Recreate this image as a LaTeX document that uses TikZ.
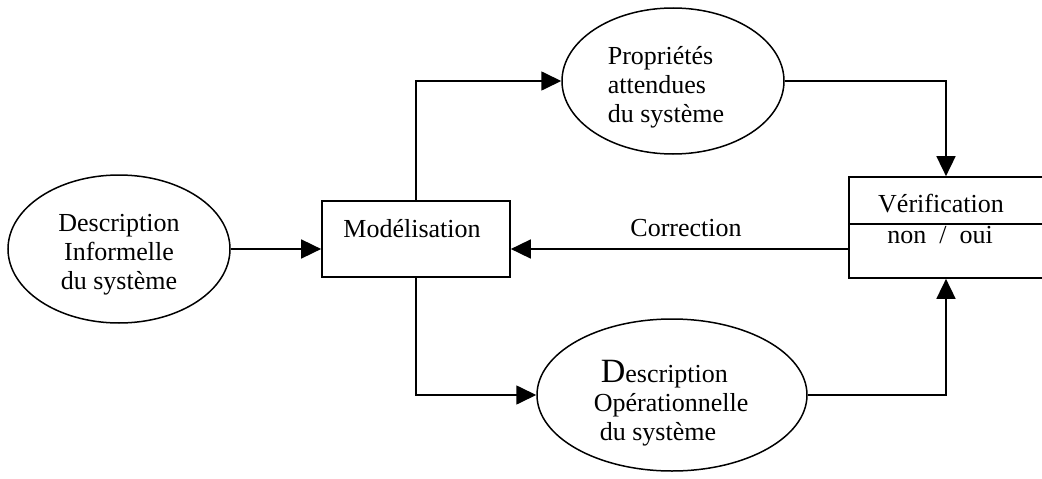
\documentclass[tikz,border=0pt]{standalone}
\usepackage{fontspec}
\setmainfont{Liberation Serif}
\usetikzlibrary{shapes.geometric,arrows.meta}
\begin{document}
\begin{tikzpicture}[x=1pt,y=-1pt,
  line width=1.7pt,
  ell/.style={draw,ellipse,inner sep=0pt,line width=1.5pt},
  box/.style={draw,rectangle,inner sep=0pt},
  lbl/.style={inner sep=0pt,font=\fontsize{26}{29}\selectfont},
  arr/.style={-{Triangle[length=20pt,width=19pt]}}
]
\useasboundingbox (0,0) rectangle (1042,479);
\clip (0,0) rectangle (1042,479);

% shapes
\node[ell,minimum width=222pt,minimum height=148pt] (inf) at (119,249) {};
\node[lbl,align=center] (inft) at (119,255) {Description\\Informelle\\du système};

\node[ell,minimum width=222pt,minimum height=146pt] (prop) at (673,81) {};
\node[lbl,align=left,anchor=west] (propt) at (607,87) {Propriétés\\attendues\\du système};

\node[ell,minimum width=270pt,minimum height=152pt] (ope) at (672,395) {};
\node[lbl,align=left,anchor=west] (opet) at (593,403) {\hspace*{7pt}{\fontsize{34}{29}\selectfont D}escription\\Opérationnelle\\\hspace*{6pt}du système};

\node[box,minimum width=188pt,minimum height=76pt] (mod) at (416,239) {};
\node[lbl,anchor=base] (modt) at (412,237) {Modélisation};

\node[box,minimum width=194pt,minimum height=101pt] (ver) at (946,227.5) {};
\coordinate (dv) at (0,224);
\draw (ver.west |- dv) -- (ver.east |- dv);
\node[lbl,anchor=base] (vert) at (941,212) {Vérification};
\node[lbl,anchor=base] (nono) at (940,243) {non\ \ /\ \ oui};

\node[lbl,anchor=base] (corr) at (686,236) {Correction};

% connectors
\coordinate (cy) at (0,249);
\draw[arr] (inf.east) -- (inf.east -| mod.west);
\draw[arr] (mod.north) |- (prop.west);
\draw[arr] (prop.east) -| (ver.north);
\draw[arr] (ver.west |- cy) -- (mod.east |- cy);
\draw[arr] (mod.south) |- (ope.west);
\draw[arr] (ope.east) -| (ver.south);
\end{tikzpicture}
\end{document}
